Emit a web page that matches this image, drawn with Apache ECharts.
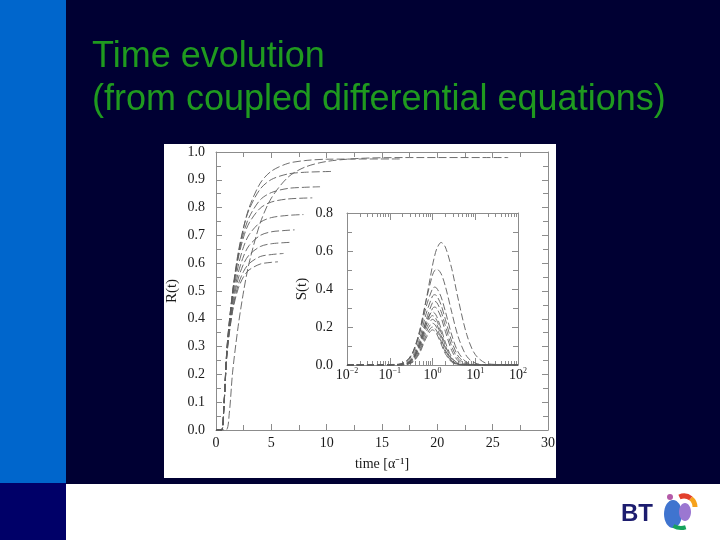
<!DOCTYPE html>
<html><head><meta charset="utf-8">
<script src="https://cdn.jsdelivr.net/npm/echarts@6/dist/echarts.min.js"></script>
<style>html,body{margin:0;padding:0;background:#000033;}#c{width:720px;height:540px;}</style>
</head><body><div id="c"></div>
<script>
// ---- text ----
const titleLines = ['Time evolution', '(from coupled differential equations)'];
const mainXName = 'time [α⁻¹]';
const mainYName = 'R(t)';
const insetYName = 'S(t)';

// ---- main plot: R(t) curves, [time, R] ----
const r1 = [[0,0],[0.9,0],[1.2,0.06],[1.5,0.208],[2,0.372],[2.5,0.5],[3,0.602],[4,0.745],[5,0.834],[6.5,0.909],[8,0.945],[10,0.966],[13,0.977],[17,0.98],[26.4,0.98]];
const r2 = [[0,0],[0.5,0],[0.7,0.07],[1,0.285],[1.5,0.486],[2,0.628],[2.5,0.729],[3,0.801],[4,0.888],[5,0.931],[6.5,0.959],[8,0.969],[10,0.974],[16.8,0.975]];
const r3 = [[0,0],[0.5,0],[0.7,0.075],[1,0.297],[1.5,0.499],[2,0.637],[2.5,0.73],[3,0.794],[4,0.867],[5,0.901],[6.5,0.921],[8,0.927],[10.4,0.93]];
const r4 = [[0,0],[0.5,0],[0.7,0.075],[1,0.298],[1.5,0.494],[2,0.624],[2.5,0.71],[3,0.766],[4,0.828],[5,0.854],[6.5,0.869],[8,0.873],[9.4,0.875]];
const r5 = [[0,0],[0.5,0],[0.7,0.075],[1,0.301],[1.5,0.493],[2,0.616],[2.5,0.695],[3,0.745],[4,0.798],[5,0.82],[6.5,0.831],[8.7,0.835]];
const r6 = [[0,0],[0.5,0],[0.7,0.075],[1,0.294],[1.5,0.476],[2,0.589],[2.5,0.66],[3,0.703],[4,0.747],[5,0.764],[6.5,0.772],[7.9,0.775]];
const r7 = [[0,0],[0.5,0],[0.7,0.075],[1,0.288],[1.5,0.46],[2,0.564],[2.5,0.626],[3,0.664],[4,0.7],[5,0.713],[6,0.717],[7.1,0.72]];
const r8 = [[0,0],[0.5,0],[0.7,0.075],[1,0.283],[1.5,0.447],[2,0.543],[2.5,0.598],[3,0.63],[4,0.66],[5,0.67],[6.7,0.675]];
const r9 = [[0,0],[0.5,0],[0.7,0.075],[1,0.278],[1.5,0.434],[2,0.522],[2.5,0.571],[3,0.599],[4,0.624],[5,0.631],[6.1,0.635]];
const r10 = [[0,0],[0.5,0],[0.7,0.075],[1,0.276],[1.5,0.427],[2,0.508],[2.5,0.552],[3,0.576],[4,0.597],[5,0.603],[5.6,0.605]];

// ---- inset: S(t) curves on a log time axis ----
const sTimes = [0.01, 0.158, 0.251, 0.355, 0.501, 0.708, 1, 1.122, 1.259, 1.585, 1.995, 2.818, 3.981, 6.31, 10, 19.95, 100];
const s1  = [0, 0.004, 0.023, 0.072, 0.176, 0.341, 0.524, 0.574, 0.612, 0.645, 0.621, 0.507, 0.348, 0.161, 0.055, 0.006, 0];
const s2  = [0, 0.003, 0.022, 0.073, 0.182, 0.339, 0.474, 0.497, 0.505, 0.481, 0.415, 0.278, 0.149, 0.046, 0.010, 0, 0];
const s3  = [0, 0.002, 0.018, 0.064, 0.165, 0.305, 0.402, 0.41, 0.404, 0.359, 0.283, 0.158, 0.068, 0.014, 0.002, 0, 0];
const s4  = [0, 0.001, 0.013, 0.050, 0.139, 0.269, 0.363, 0.37, 0.364, 0.317, 0.241, 0.124, 0.047, 0.008, 0.001, 0, 0];
const s5  = [0, 0.001, 0.009, 0.038, 0.116, 0.237, 0.328, 0.335, 0.329, 0.282, 0.207, 0.098, 0.033, 0.004, 0, 0, 0];
const s6  = [0, 0, 0.007, 0.032, 0.101, 0.212, 0.298, 0.305, 0.298, 0.251, 0.177, 0.076, 0.022, 0.002, 0, 0, 0];
const s7  = [0, 0.001, 0.009, 0.041, 0.120, 0.226, 0.28, 0.273, 0.255, 0.192, 0.120, 0.041, 0.009, 0.001, 0, 0, 0];
const s8  = [0, 0, 0.007, 0.035, 0.107, 0.208, 0.26, 0.253, 0.235, 0.172, 0.103, 0.032, 0.006, 0, 0, 0, 0];
const s9  = [0, 0, 0.006, 0.030, 0.095, 0.190, 0.24, 0.234, 0.215, 0.156, 0.091, 0.027, 0.005, 0, 0, 0, 0];
const s10 = [0, 0, 0.004, 0.025, 0.083, 0.173, 0.22, 0.214, 0.196, 0.140, 0.079, 0.022, 0.004, 0, 0, 0, 0];
const s11 = [0, 0, 0.003, 0.020, 0.072, 0.155, 0.2, 0.194, 0.178, 0.124, 0.069, 0.018, 0.003, 0, 0, 0, 0];
const s12 = [0, 0, 0.003, 0.017, 0.063, 0.142, 0.185, 0.179, 0.163, 0.112, 0.060, 0.015, 0.002, 0, 0, 0, 0];

const rCurves = [r1, r2, r3, r4, r5, r6, r7, r8, r9, r10];
const sCurves = [s1, s2, s3, s4, s5, s6, s7, s8, s9, s10, s11, s12];

// ---- styling ----
const serif = 'Liberation Serif';
const axisCol = '#8c8c8c';
const curveCol = '#5e5e5e';
const lbl = { color: '#1a1a1a', fontFamily: serif, fontSize: 14 };

function axisBase(gridIndex, extra) {
  return Object.assign({
    gridIndex: gridIndex,
    axisLine: { show: true, onZero: false, lineStyle: { color: axisCol, width: 1 } },
    axisTick: { show: true, inside: true, length: 6, lineStyle: { color: axisCol } },
    minorTick: { show: true, splitNumber: 2, length: 5, lineStyle: { color: axisCol } },
    splitLine: { show: false },
    minorSplitLine: { show: false }
  }, extra);
}

const chart = echarts.init(document.getElementById('c'));

const series = [];
rCurves.forEach(d => series.push({
  type: 'line', xAxisIndex: 0, yAxisIndex: 0, data: d,
  symbol: 'none', smooth: 0.3, silent: true, z: 3,
  lineStyle: { color: curveCol, width: 0.9, type: [8, 3] }
}));
sCurves.forEach(v => series.push({
  type: 'line', xAxisIndex: 2, yAxisIndex: 2,
  data: sTimes.map((t, j) => [t, v[j]]),
  symbol: 'none', smooth: 0.3, silent: true, z: 3,
  lineStyle: { color: curveCol, width: 0.9, type: [7, 3] }
}));

const logoParts = [
  { type: 'text', x: 621, y: 514, z: 5, style: { text: 'BT', fill: '#1c1c6e', fontFamily: 'Liberation Sans', fontWeight: 'bold', fontSize: 24, verticalAlign: 'middle' } },
  { type: 'ellipse', shape: { cx: 673, cy: 514, rx: 9, ry: 14 }, z: 5, style: { fill: '#3f74cf' } },
  { type: 'ellipse', shape: { cx: 685, cy: 512, rx: 6, ry: 9 }, z: 5, style: { fill: '#9b77d1' } },
  { type: 'arc', shape: { cx: 684, cy: 507, r: 11, startAngle: -2.0, endAngle: -0.9 }, z: 5, style: { stroke: '#e2402c', lineWidth: 5, fill: null } },
  { type: 'arc', shape: { cx: 684, cy: 507, r: 11, startAngle: -0.9, endAngle: 0.0 }, z: 5, style: { stroke: '#f6a21c', lineWidth: 5, fill: null } },
  { type: 'arc', shape: { cx: 681, cy: 513, r: 15, startAngle: 1.25, endAngle: 2.1 }, z: 5, style: { stroke: '#17a35c', lineWidth: 4, fill: null } },
  { type: 'circle', shape: { cx: 670, cy: 497, r: 3 }, z: 5, style: { fill: '#b45aa8' } }
];

const option = {
  backgroundColor: '#000033',
  animation: false,
  graphic: [
    { type: 'rect', shape: { x: 0, y: 0, width: 66, height: 483 }, z: -10, style: { fill: '#0066cc' } },
    { type: 'rect', shape: { x: 0, y: 483, width: 66, height: 57 }, z: -10, style: { fill: '#000068' } },
    { type: 'rect', shape: { x: 66, y: 484, width: 654, height: 56 }, z: -10, style: { fill: '#ffffff' } },
    { type: 'rect', shape: { x: 164, y: 144, width: 392, height: 334 }, z: -10, style: { fill: '#ffffff' } },
    { type: 'text', x: 92, y: 57, z: 5, style: { text: titleLines[0], fill: '#1f9a1f', fontFamily: 'Liberation Sans', fontSize: 36, verticalAlign: 'middle' } },
    { type: 'text', x: 92, y: 100, z: 5, style: { text: titleLines[1], fill: '#1f9a1f', fontFamily: 'Liberation Sans', fontSize: 36, verticalAlign: 'middle' } }
  ].concat(logoParts),
  grid: [
    { left: 216, top: 152, width: 332, height: 278, containLabel: false },
    { left: 347, top: 213, width: 171, height: 152, containLabel: false }
  ],
  xAxis: [
    axisBase(0, { type: 'value', position: 'bottom', min: 0, max: 30, interval: 5,
      axisLabel: Object.assign({ margin: 6 }, lbl),
      name: mainXName, nameLocation: 'middle', nameGap: 27,
      nameTextStyle: { color: '#1a1a1a', fontFamily: serif, fontSize: 14 } }),
    axisBase(0, { type: 'value', position: 'top', min: 0, max: 30, interval: 5, axisLabel: { show: false } }),
    axisBase(1, { type: 'log', logBase: 10, position: 'bottom', min: 0.01, max: 100,
      minorTick: { show: true, splitNumber: 9, length: 4, lineStyle: { color: axisCol } },
      axisTick: { show: true, inside: true, length: 7, lineStyle: { color: axisCol } },
      axisLabel: {
        margin: 2,
        formatter: v => '{b|10}{s|' + Math.round(Math.log10(v)).toString().replace('-', '−') + '}',
        rich: {
          b: { fontFamily: serif, fontSize: 14, color: '#1a1a1a', lineHeight: 16 },
          s: { fontFamily: serif, fontSize: 8, color: '#1a1a1a', lineHeight: 16, verticalAlign: 'top' }
        }
      } }),
    axisBase(1, { type: 'log', logBase: 10, position: 'top', min: 0.01, max: 100,
      minorTick: { show: true, splitNumber: 9, length: 4, lineStyle: { color: axisCol } },
      axisTick: { show: true, inside: true, length: 7, lineStyle: { color: axisCol } },
      axisLabel: { show: false } })
  ],
  yAxis: [
    axisBase(0, { type: 'value', position: 'left', min: 0, max: 1, interval: 0.1,
      axisLabel: Object.assign({ margin: 11, formatter: v => v.toFixed(1) }, lbl),
      name: mainYName, nameLocation: 'middle', nameGap: 36, nameRotate: 90,
      nameTextStyle: { color: '#1a1a1a', fontFamily: serif, fontSize: 15 } }),
    axisBase(0, { type: 'value', position: 'right', min: 0, max: 1, interval: 0.1, axisLabel: { show: false } }),
    axisBase(1, { type: 'value', position: 'left', min: 0, max: 0.8, interval: 0.2,
      axisLabel: Object.assign({ margin: 14, formatter: v => v.toFixed(1) }, lbl),
      name: insetYName, nameLocation: 'middle', nameGap: 37, nameRotate: 90,
      nameTextStyle: { color: '#1a1a1a', fontFamily: serif, fontSize: 15 } }),
    axisBase(1, { type: 'value', position: 'right', min: 0, max: 0.8, interval: 0.2, axisLabel: { show: false } })
  ],
  series: series
};
chart.setOption(option);
</script>
</body></html>
